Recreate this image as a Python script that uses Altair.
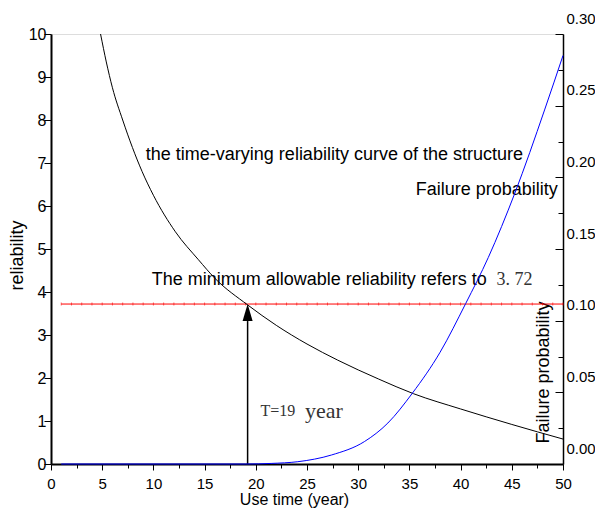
import altair as alt
import pandas as pd

# ---- data ----
years_black = [4.84, 5.4, 6, 7, 8.9, 10, 12.15, 14.4, 16, 19.2, 22, 25, 28, 32, 35.4, 40, 45, 50]
rel_black = [10.0, 9.35, 8.75, 8.0, 6.8, 6.25, 5.4, 4.75, 4.32, 3.70, 3.225, 2.79, 2.415, 1.975, 1.635, 1.28, 0.92, 0.58]

years_blue = [1, 19, 21.5, 24.1, 27.4, 30.6, 32.9, 35.3, 38, 40.5, 42.7, 45.3, 48.2, 50]
pf_blue = [0, 0, 0.0004, 0.0016, 0.0063, 0.0156, 0.0286, 0.0495, 0.078, 0.112, 0.144, 0.189, 0.247, 0.285]

limit_rel = 3.72
limit_year = 19.2
red_years = [1, 50]
red_tick_years = list(range(1, 51))

x_ticks = [i * 2.5 for i in range(21)]
yl_ticks = [i * 0.5 for i in range(21)]
yr_ticks = [round(i * 0.025, 3) for i in range(13)]
yr_labels = [round(i * 0.05, 2) for i in range(7)]

ann_main = ["the time-varying reliability curve of the structure", "Failure probability",
            "The minimum allowable reliability refers to"]
ann_year = [9.26, 49.5, 9.84]
ann_rel = [7.19, 6.37, 4.28]
ann_align = ["left", "right", "left"]

FONT = "Liberation Sans"
SERIF = "Liberation Serif"
W = 512
H = 430

df_black = pd.DataFrame({"year": years_black, "R": rel_black})
df_blue = pd.DataFrame({"year": years_blue, "P": pf_blue})
df_red = pd.DataFrame({"year": red_years, "R": [limit_rel] * len(red_years)})
df_redt = pd.DataFrame({"year": red_tick_years, "R": [limit_rel] * len(red_tick_years)})
df_arrow = pd.DataFrame({"year": [limit_year], "R": [0.0], "R2": [limit_rel]})
df_head = pd.DataFrame({"year": [limit_year], "R": [limit_rel]})

xaxis = alt.Axis(
    values=x_ticks, format="d", labelExpr="datum.value % 5 === 0 ? datum.label : ''",
    tickSize={"condition": {"test": "datum.value % 5 !== 0", "value": 4}, "value": 6},
    labelPadding=6, labelFlush=False, labelOverlap=False, grid=False,
    domainWidth=2, domainColor="black", tickColor="black", tickWidth=1,
    title="Use time (year)", titleX=243, titleY=40, titleBaseline="alphabetic",
    titleFontSize=16, titleFontWeight="normal", titleFont=FONT,
    labelFont=FONT, labelFontSize=15, labelColor="black", titleColor="black",
)
X = alt.X("year:Q", scale=alt.Scale(domain=[0, 50], nice=False, zero=False), axis=xaxis)

ylaxis = alt.Axis(
    values=yl_ticks, format="d", labelExpr="datum.value % 1 === 0 ? datum.label : ''",
    tickSize={"condition": {"test": "datum.value % 1 !== 0", "value": 4}, "value": 7},
    labelPadding=-2, labelOverlap=False, grid=False, orient="left",
    domainWidth=2, domainColor="black", tickColor="black", tickWidth=1,
    title="reliability", titleAngle=270, titleX=-34, titleY=221, titleAlign="center",
    titleBaseline="middle", titleFontSize=18, titleFontWeight="normal", titleFont=FONT,
    labelFont=FONT, labelFontSize=16, labelColor="black", titleColor="black",
)
YL = alt.Y("R:Q", scale=alt.Scale(domain=[0, 10], nice=False, zero=False), axis=ylaxis)

black = alt.Chart(df_black).mark_line(color="black", strokeWidth=1, interpolate="monotone").encode(x=X, y=YL)
red = alt.Chart(df_red).mark_line(color="red", strokeWidth=1).encode(x=X, y=YL)
redt = alt.Chart(df_redt).mark_tick(color="red", orient="vertical", size=3, thickness=1, opacity=0.6).encode(x=X, y=YL)
shaft = alt.Chart(df_arrow).mark_rule(color="black", strokeWidth=1.5, y2Offset=17).encode(
    x=X, y=YL, y2=alt.Y2("R2:Q"))
head = alt.Chart(df_head).mark_point(shape="M0,-1L-0.59,1L0.59,1Z", size=289, filled=True,
                                     color="black", opacity=1, yOffset=8.5).encode(x=X, y=YL)

df_ann = pd.DataFrame({"year": ann_year, "R": ann_rel, "t": ann_main, "a": ann_align})
texts = []
for i in range(len(ann_main)):
    d = df_ann.iloc[[i]]
    texts.append(alt.Chart(d).mark_text(font=FONT, fontSize=18, align=ann_align[i], baseline="middle",
                                        color="black").encode(x=X, y=YL, text="t:N"))
df_v = pd.DataFrame({"year": [43.5], "R": [4.28], "t": ["3. 72"]})
tv = alt.Chart(df_v).mark_text(font=SERIF, fontSize=18, align="left", baseline="middle",
                               color="#333333").encode(x=X, y=YL, text="t:N")
df_T = pd.DataFrame({"year": [20.45], "R": [1.23], "t": ["T=19"]})
tT = alt.Chart(df_T).mark_text(font=SERIF, fontSize=16, align="left", baseline="middle",
                               color="#333333").encode(x=X, y=YL, text="t:N")
df_yr = pd.DataFrame({"year": [24.8], "R": [1.23], "t": ["year"]})
tyr = alt.Chart(df_yr).mark_text(font=SERIF, fontSize=22, align="left", baseline="middle",
                                 color="#333333").encode(x=X, y=YL, text="t:N")

left = alt.layer(red, redt, black, shaft, head, *texts, tv, tT, tyr)

yraxis = alt.Axis(
    values=yr_labels, format=".2f", orient="right", ticks=False, tickSize=0,
    labelPadding=3, labelOffset=-16, labelOverlap=False, grid=False,
    domainWidth=1.5, domainColor="black",
    title="Failure probability", titleAngle=270, titleX=-20, titleY=338, titleAlign="center",
    titleBaseline="middle", titleFontSize=18, titleFontWeight="normal", titleFont=FONT,
    labelFont=FONT, labelFontSize=15, labelColor="black", titleColor="black",
)
YR = alt.Y("P:Q", scale=alt.Scale(domain=[0, 0.3], nice=False, zero=False), axis=yraxis)
blue = alt.Chart(df_blue).mark_line(color="blue", strokeWidth=1, interpolate="monotone").encode(x=X, y=YR)

ytaxis = alt.Axis(
    values=yr_ticks, orient="left", offset=-W, labels=False, domain=False, title=None, grid=False,
    tickSize={"condition": {"test": "abs(datum.value / 0.05 - round(datum.value / 0.05)) > 0.01",
                            "value": 5}, "value": 8},
    tickColor="black", tickWidth=1,
)
YT = alt.Y("P:Q", scale=alt.Scale(domain=[0, 0.3], nice=False, zero=False), axis=ytaxis)
ghost = alt.Chart(df_blue).mark_line(opacity=0).encode(x=X, y=YT)

chart = alt.layer(left, blue, ghost).resolve_scale(y="independent").resolve_axis(y="independent").properties(
    width=W, height=H,
    autosize=alt.AutoSizeParams(type="none"),
    padding={"left": 43, "top": 26, "right": 32, "bottom": 45},
).configure_view(stroke="black", strokeWidth=1.2).configure(background="white")

chart.save("out.html", embed_options={"renderer": "svg", "actions": False})
